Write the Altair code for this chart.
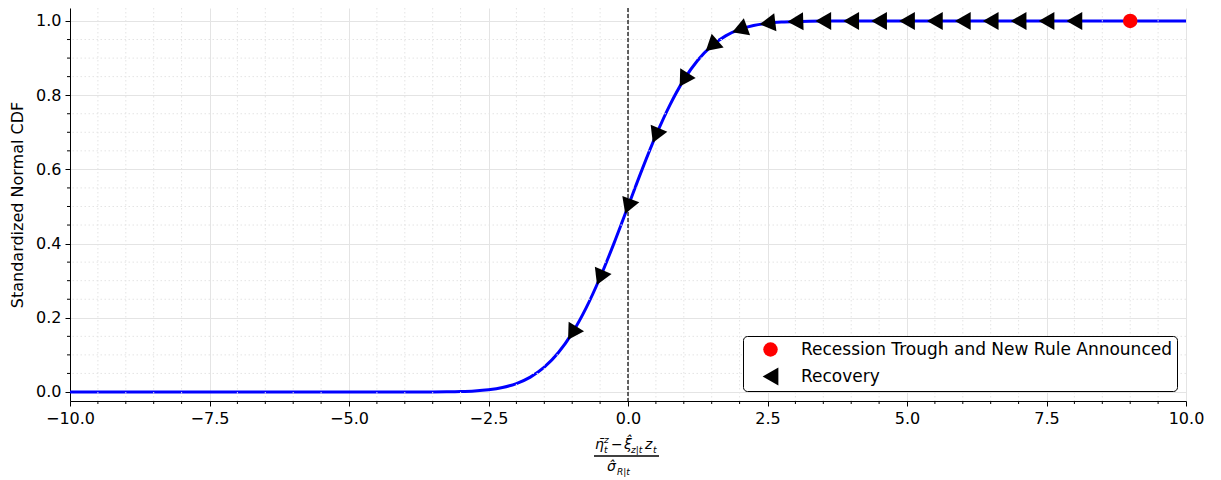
import altair as alt
import pandas as pd
import numpy as np

# ---------------- data ----------------
curve_x = [-10.0, -4.0, -3.75, -3.5, -3.25, -3.0, -2.75, -2.5, -2.25, -2.0, -1.75, -1.5,
           -1.25, -1.0, -0.75, -0.5, -0.25, 0.0, 0.25, 0.5, 0.75, 1.0, 1.25, 1.5, 1.75,
           2.0, 2.25, 2.5, 2.75, 3.0, 3.25, 3.5, 3.75, 4.0, 10.0]
curve_y = [0.0, 0.00003, 0.00009, 0.00023, 0.00058, 0.00135, 0.00298, 0.00621, 0.01222,
           0.02275, 0.04006, 0.06681, 0.10565, 0.15866, 0.22663, 0.30854, 0.40129, 0.5,
           0.59871, 0.69146, 0.77337, 0.84134, 0.89435, 0.93319, 0.95994, 0.97725,
           0.98778, 0.99379, 0.99702, 0.99865, 0.99942, 0.99977, 0.99991, 0.99997, 1.0]

recovery_x = [-1.0, -0.5, 0.0, 0.5, 1.0, 1.5, 2.0, 2.5, 3.0, 3.5, 4.0, 4.5, 5.0, 5.5,
              6.0, 6.5, 7.0, 7.5, 8.0]
recovery_y = [0.15866, 0.30854, 0.5, 0.69146, 0.84134, 0.93319, 0.97725, 0.99379,
              0.99865, 0.99977, 0.99997, 1.0, 1.0, 1.0, 1.0, 1.0, 1.0, 1.0, 1.0]

trough_x = [9.0]
trough_y = [1.0]

series_names = ["Recession Trough and New Rule Announced", "Recovery"]

x_major_ticks = [-10.0, -7.5, -5.0, -2.5, 0.0, 2.5, 5.0, 7.5, 10.0]
y_major_ticks = [0.0, 0.2, 0.4, 0.6, 0.8, 1.0]
x_minor_ticks = [round(-10 + 0.5 * i, 2) for i in range(41)]
x_minor_ticks = [v for v in x_minor_ticks if v not in x_major_ticks]
y_minor_ticks = [round(0.05 * i, 2) for i in range(21)]
y_minor_ticks = [v for v in y_minor_ticks if v not in y_major_ticks]

# ---------------- layout ----------------
W, H = 1116, 393
X_DOM = [-10, 10]
Y_DOM = [-0.0243, 1.035]
FONT = "DejaVu Sans"
GRID = "#e4e4e4"

xs = alt.Scale(domain=X_DOM, nice=False, zero=False)
ys = alt.Scale(domain=Y_DOM, nice=False, zero=False)

# marker rotation follows the curve's slope in pixel space
px_per_x = W / (X_DOM[1] - X_DOM[0])
px_per_y = H / (Y_DOM[1] - Y_DOM[0])
slope = np.gradient(np.array(curve_y), np.array(curve_x))
slope_at = np.interp(recovery_x, curve_x, slope)
ang = np.degrees(np.arctan(slope_at * px_per_y / px_per_x))
recovery_angle = [float((360 - a) % 360) for a in ang]

curve_df = pd.DataFrame({"x": curve_x, "y": curve_y})
pts_df = pd.DataFrame({
    "x": recovery_x + trough_x,
    "y": recovery_y + trough_y,
    "series": [series_names[1]] * len(recovery_x) + [series_names[0]] * len(trough_x),
    "angle": recovery_angle + [0.0] * len(trough_x),
})

x_axis = alt.Axis(values=x_major_ticks, format=".1f", grid=True, gridColor=GRID,
                  gridWidth=1, tickSize=5, tickColor="black", domainColor="black",
                  labelFontSize=16, labelColor="black", labelFont=FONT, labelPadding=4,
                  title=None, labelFlush=False, orient="bottom")
y_axis = alt.Axis(values=y_major_ticks, format=".1f", grid=True, gridColor=GRID,
                  gridWidth=1, tickSize=5, tickColor="black", domainColor="black",
                  labelFontSize=16, labelColor="black", labelFont=FONT, labelPadding=4,
                  title="Standardized Normal CDF", titleFontSize=16, titleFont=FONT,
                  titleFontWeight="normal", titleColor="black", titlePadding=10,
                  labelFlush=False, orient="left")

line = alt.Chart(curve_df).mark_line(color="#0000ff", strokeWidth=3,
                                     interpolate="monotone").encode(
    x=alt.X("x:Q", scale=xs, axis=x_axis),
    y=alt.Y("y:Q", scale=ys, axis=y_axis),
)

xminor_df = pd.DataFrame({"x": x_minor_ticks})
yminor_df = pd.DataFrame({"y": y_minor_ticks})

xminor_grid = alt.Chart(xminor_df).mark_rule(color=GRID, strokeDash=[1.5, 2.5],
                                             strokeWidth=1).encode(
    x=alt.X("x:Q", scale=xs, axis=None))
yminor_grid = alt.Chart(yminor_df).mark_rule(color=GRID, strokeDash=[1.5, 2.5],
                                             strokeWidth=1).encode(
    y=alt.Y("y:Q", scale=ys, axis=None))
xminor_tick = alt.Chart(xminor_df).mark_rule(color="black", strokeWidth=1).encode(
    x=alt.X("x:Q", scale=xs, axis=None), y=alt.value(H), y2=alt.value(H + 3))
yminor_tick = alt.Chart(yminor_df).mark_rule(color="black", strokeWidth=1).encode(
    y=alt.Y("y:Q", scale=ys, axis=None), x=alt.value(0), x2=alt.value(-3))

vline = alt.Chart(pd.DataFrame({"x": [0.0]})).mark_rule(
    color="black", strokeWidth=1.2, strokeDash=[4, 2]).encode(
    x=alt.X("x:Q", scale=xs, axis=None))

legend = alt.Legend(title=None, orient="none", legendX=673, legendY=328,
                    fillColor="white", strokeColor="black", cornerRadius=4,
                    padding=5, symbolOffset=13, labelFontSize=17, labelFont=FONT,
                    labelColor="black", labelOffset=21, symbolSize=200,
                    symbolStrokeWidth=0, rowPadding=9, labelLimit=500)

points = alt.Chart(pts_df).mark_point(filled=True, opacity=1).encode(
    x=alt.X("x:Q", scale=xs, axis=None),
    y=alt.Y("y:Q", scale=ys, axis=None),
    color=alt.Color("series:N", scale=alt.Scale(domain=series_names,
                                                range=["#ff0000", "black"]),
                    legend=legend),
    shape=alt.Shape("series:N", scale=alt.Scale(domain=series_names,
                                                range=["circle", "triangle-left"]),
                    legend=legend),
    size=alt.Size("series:N", scale=alt.Scale(domain=series_names, range=[210, 330]),
                  legend=None),
    angle=alt.Angle("angle:Q", scale=None),
)

# ---- x-axis title drawn as a fraction ----
dummy = pd.DataFrame({"a": [0]})
def piece(txt, x, y, size, italic=True):
    return alt.Chart(dummy).mark_text(
        font=FONT, fontSize=size, fontStyle="italic" if italic else "normal",
        align="left", baseline="alphabetic", color="black").encode(
        x=alt.value(x), y=alt.value(y), text=alt.value(txt))

ox, oy = 70, 8  # plot origin on the page
title_layers = [
    piece("η̄", 595 - ox, 449 - oy, 14),
    piece("z", 604 - ox, 443 - oy, 9),
    piece("t", 604 - ox, 453 - oy, 9),
    piece("−", 611 - ox, 449 - oy, 14, italic=False),
    piece("ξ̂", 624 - ox, 449 - oy, 14),
    piece("z|t", 631 - ox, 453 - oy, 9),
    piece("z", 645 - ox, 449 - oy, 14),
    piece("t", 653 - ox, 453 - oy, 9),
    piece("σ̂", 607 - ox, 471 - oy, 14),
    piece("R|t", 617 - ox, 475 - oy, 9),
]
frac_bar = alt.Chart(dummy).mark_rule(color="black", strokeWidth=1.3).encode(
    x=alt.value(594 - ox), x2=alt.value(659 - ox), y=alt.value(456 - oy))

chart = alt.layer(
    line, xminor_grid, yminor_grid, xminor_tick, yminor_tick, vline,
    points, frac_bar, *title_layers
).resolve_axis(
    x="independent", y="independent"
).properties(
    width=W, height=H,
    autosize=alt.AutoSizeParams(type="none"),
    padding={"left": 62, "top": 0, "right": 20, "bottom": 79},
).configure(font=FONT).configure_view(stroke=None)

chart.save("out.html", embed_options={"renderer": "svg", "actions": False})
